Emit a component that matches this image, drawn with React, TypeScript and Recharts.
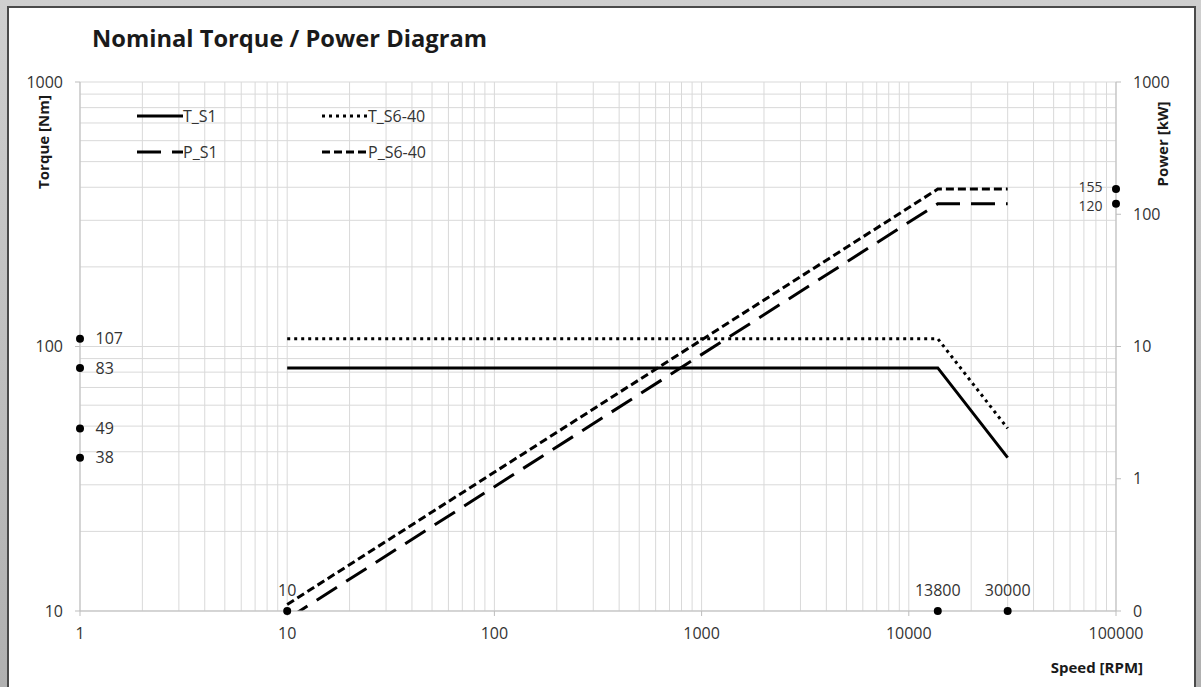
import React from 'react';
import {
  ComposedChart,
  Line,
  Scatter,
  XAxis,
  YAxis,
  CartesianGrid,
  LabelList,
  Legend,
} from 'recharts';

// ---- Data ----
const speedTicks = [1, 10, 100, 1000, 10000, 100000];
const torqueTicks = [10, 100, 1000];
const powerTicks = [0.1, 1, 10, 100, 1000];

const tS1 = [
  { speed: 10, torque: 83 },
  { speed: 13800, torque: 83 },
  { speed: 30000, torque: 38 },
];
const tS640 = [
  { speed: 10, torque: 107 },
  { speed: 13800, torque: 107 },
  { speed: 30000, torque: 49 },
];
const pS1 = [
  { speed: 10, power: 0.087 },
  { speed: 13800, power: 120 },
  { speed: 30000, power: 120 },
];
const pS640 = [
  { speed: 10, power: 0.112 },
  { speed: 13800, power: 155 },
  { speed: 30000, power: 155 },
];

const torqueMarkers = [
  { speed: 1, torque: 107, label: '107' },
  { speed: 1, torque: 83, label: '83' },
  { speed: 1, torque: 49, label: '49' },
  { speed: 1, torque: 38, label: '38' },
];
const powerMarkers = [
  { speed: 100000, power: 155, label: '155' },
  { speed: 100000, power: 120, label: '120' },
];
const speedMarkers = [
  { speed: 10, torque: 10, label: '10' },
  { speed: 13800, torque: 10, label: '13800' },
  { speed: 30000, torque: 10, label: '30000' },
];

const legendItems = [
  { name: 'T_S1', dash: undefined as string | undefined },
  { name: 'T_S6-40', dash: '3 4' },
  { name: 'P_S1', dash: '24 11' },
  { name: 'P_S6-40', dash: '8 4' },
];

// log grid values (major + minor)
const gridX: number[] = [];
[1, 10, 100, 1000, 10000].forEach((d) => {
  for (let m = 1; m <= 9; m++) gridX.push(d * m);
});
gridX.push(100000);
const gridY: number[] = [];
[10, 100].forEach((d) => {
  for (let m = 1; m <= 9; m++) gridY.push(d * m);
});
gridY.push(1000);

const FONT = '"Open Sans", "Noto Sans", sans-serif';
const TXT = '#333333';
const AXIS = '#bdbdbd';
const GRID = '#d9d9d9';

const renderLegend = () => {
  const pos = [
    { left: 1, top: 16 },
    { left: 186, top: 16 },
    { left: 1, top: 52 },
    { left: 186, top: 52 },
  ];
  return (
    <div style={{ position: 'relative', width: 300, height: 70 }}>
      {legendItems.map((it, i) => (
        <div
          key={it.name}
          style={{
            position: 'absolute',
            left: pos[i].left,
            top: pos[i].top - 12,
            height: 24,
            display: 'flex',
            alignItems: 'center',
            fontFamily: FONT,
            fontSize: 16,
            color: TXT,
            whiteSpace: 'nowrap',
          }}
        >
          <svg width={46} height={10} style={{ display: 'block' }}>
            <line
              x1={0}
              y1={5}
              x2={46}
              y2={5}
              stroke="#000"
              strokeWidth={3}
              strokeDasharray={it.dash}
            />
          </svg>
          <span>{it.name}</span>
        </div>
      ))}
    </div>
  );
};

const dotShape = (props: any) => <circle cx={props.cx} cy={props.cy} r={4} fill="#000" />;

const powerLabel = (props: any) => {
  const { x, y, width, height, value, index } = props;
  const cy = y + height / 2 + (index === 0 ? -2 : 2);
  return (
    <text
      x={x - 9}
      y={cy}
      dy="0.355em"
      textAnchor="end"
      fill={TXT}
      fontSize={14}
      fontFamily={FONT}
    >
      {value}
    </text>
  );
};

export default function App() {
  return (
    <div
      style={{
        position: 'absolute',
        left: 0,
        top: 0,
        width: 1201,
        height: 687,
        overflow: 'hidden',
        background: 'linear-gradient(180deg, #cfcfcf 0%, #b0b0b0 100%)',
      }}
    >
      <div
        style={{
          position: 'absolute',
          left: 7,
          top: 6,
          width: 1189,
          height: 700,
          boxSizing: 'border-box',
          border: '2px solid #4a4a4a',
          background: '#ffffff',
        }}
      />
      <div style={{ position: 'absolute', left: 0, top: 0 }}>
        <ComposedChart
          width={1201}
          height={687}
          margin={{ top: 82, right: 25, bottom: 46, left: 20 }}
          style={{ fontFamily: FONT }}
        >
          <CartesianGrid
            stroke={GRID}
            strokeWidth={1}
            xAxisId="x"
            yAxisId="torque"
            verticalValues={gridX}
            horizontalValues={gridY}
          />
          <XAxis
            xAxisId="x"
            dataKey="speed"
            type="number"
            scale="log"
            domain={[1, 100000]}
            ticks={speedTicks}
            interval={0}
            height={30}
            tickSize={5}
            tickMargin={12}
            axisLine={{ stroke: AXIS }}
            tickLine={{ stroke: AXIS }}
            tick={{ fill: TXT, fontSize: 16 }}
          />
          <YAxis
            yAxisId="torque"
            dataKey="torque"
            type="number"
            scale="log"
            domain={[10, 1000]}
            ticks={torqueTicks}
            interval={0}
            width={60}
            tickSize={5}
            tickMargin={12}
            axisLine={{ stroke: AXIS }}
            tickLine={{ stroke: AXIS }}
            tick={{ fill: TXT, fontSize: 16 }}
          />
          <YAxis
            yAxisId="power"
            orientation="right"
            dataKey="power"
            type="number"
            scale="log"
            domain={[0.1, 1000]}
            allowDataOverflow
            ticks={powerTicks}
            interval={0}
            width={60}
            tickSize={5}
            tickMargin={12}
            tickFormatter={(v: number) => (v === 0.1 ? '0' : String(v))}
            axisLine={{ stroke: AXIS }}
            tickLine={{ stroke: AXIS }}
            tick={{ fill: TXT, fontSize: 16 }}
          />
          <Legend
            layout="horizontal"
            verticalAlign="middle"
            align="center"
            content={renderLegend}
            wrapperStyle={{ position: 'absolute', left: 136, top: 100, width: 300, height: 70 }}
          />
          <Line
            name="T_S1"
            data={tS1}
            dataKey="torque"
            xAxisId="x"
            yAxisId="torque"
            stroke="#000"
            strokeWidth={3}
            dot={false}
            activeDot={false}
            isAnimationActive={false}
          />
          <Line
            name="T_S6-40"
            data={tS640}
            dataKey="torque"
            xAxisId="x"
            yAxisId="torque"
            stroke="#000"
            strokeWidth={3}
            strokeDasharray="3 4"
            dot={false}
            activeDot={false}
            isAnimationActive={false}
          />
          <Line
            name="P_S1"
            data={pS1}
            dataKey="power"
            xAxisId="x"
            yAxisId="power"
            stroke="#000"
            strokeWidth={3}
            strokeDasharray="24 11"
            dot={false}
            activeDot={false}
            isAnimationActive={false}
          />
          <Line
            name="P_S6-40"
            data={pS640}
            dataKey="power"
            xAxisId="x"
            yAxisId="power"
            stroke="#000"
            strokeWidth={3}
            strokeDasharray="8 4"
            dot={false}
            activeDot={false}
            isAnimationActive={false}
          />
          <Scatter
            data={torqueMarkers}
            dataKey="torque"
            xAxisId="x"
            yAxisId="torque"
            shape={dotShape}
            legendType="none"
            isAnimationActive={false}
          >
            <LabelList dataKey="label" position="right" offset={11} fill={TXT} fontSize={16} />
          </Scatter>
          <Scatter
            data={powerMarkers}
            dataKey="power"
            xAxisId="x"
            yAxisId="power"
            shape={dotShape}
            legendType="none"
            isAnimationActive={false}
          >
            <LabelList dataKey="label" content={powerLabel} />
          </Scatter>
          <Scatter
            data={speedMarkers}
            dataKey="torque"
            xAxisId="x"
            yAxisId="torque"
            shape={dotShape}
            legendType="none"
            isAnimationActive={false}
          >
            <LabelList dataKey="label" position="top" offset={10} fill={TXT} fontSize={16} />
          </Scatter>
        </ComposedChart>
      </div>
      <svg
        width={1201}
        height={687}
        style={{ position: 'absolute', left: 0, top: 0, pointerEvents: 'none', fontFamily: FONT }}
      >
        <text x={92} y={47} fontSize={23} fontWeight="bold" fill="#1a1a1a" textLength={395} lengthAdjust="spacingAndGlyphs">
          Nominal Torque / Power Diagram
        </text>
        <text
          x={0}
          y={0}
          transform="translate(49,142) rotate(-90)"
          textAnchor="middle"
          fontSize={15}
          fontWeight="bold"
          fill="#1a1a1a"
        >
          Torque [Nm]
        </text>
        <text
          x={0}
          y={0}
          transform="translate(1168,144) rotate(-90)"
          textAnchor="middle"
          fontSize={15}
          fontWeight="bold"
          fill="#1a1a1a"
        >
          Power [kW]
        </text>
        <text x={1143} y={673} textAnchor="end" fontSize={15} fontWeight="bold" fill="#1a1a1a">
          Speed [RPM]
        </text>
      </svg>
    </div>
  );
}
